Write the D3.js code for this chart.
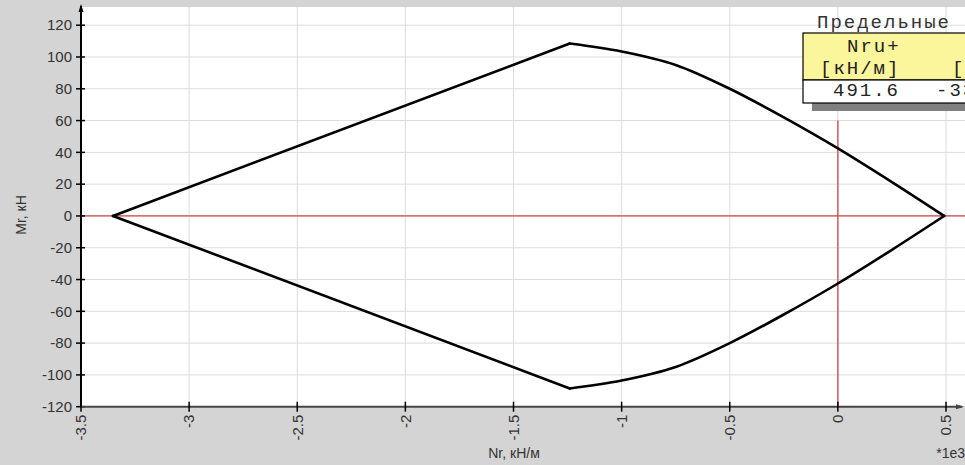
<!DOCTYPE html>
<html>
<head>
<meta charset="utf-8">
<script src="https://cdn.jsdelivr.net/npm/d3@7"></script>
<style>
  body { margin: 0; background: #d4d4d4; }
  svg text { font-family: "Liberation Sans", Arial, sans-serif; }
  svg text.mono { font-family: "Liberation Mono", "Courier New", monospace; font-size: 19px; letter-spacing: 2px; fill: #222; }
</style>
</head>
<body>
<svg id="chart" width="965" height="465"></svg>
<script>
// upper and lower branches of the limit curve, N in kN/m, M in kN
var nUpper = [-3352, -1240, -1000, -750, -500, -250, 0, 250, 491.6];
var mUpper = [0, 108.5, 103.5, 95, 80, 62, 42.5, 21.3, 0];
var nLower = [-3352, -1240, -1000, -750, -500, -250, 0, 250, 491.6];
var mLower = [0, -108.5, -103.5, -95, -80, -62, -42.5, -21.3, 0];

var xTicks = [-3500, -3000, -2500, -2000, -1500, -1000, -500, 0, 500];
var yTicks = [-120, -100, -80, -60, -40, -20, 0, 20, 40, 60, 80, 100, 120];

var tableTitle = 'Предельные значения';
var tableHead = ['Nru+', 'Nru-'];
var tableUnits = ['[кН/м]', '[кН/м]'];
var tableVals = ['491.6', '-3352.0'];

var W = 965, H = 465;
var svg = d3.select('#chart');

var x = d3.scaleLinear().domain([-3500, 500]).range([81, 946]);
var y = d3.scaleLinear().domain([-120, 120]).range([406.7, 25.2]);

// plot background
svg.append('rect')
    .attr('x', x(-3500)).attr('y', 7)
    .attr('width', W - x(-3500)).attr('height', y(-120) - 7)
    .style('fill', '#fff');

// gridlines
svg.append('g').selectAll('line').data(xTicks.slice(1)).enter().append('line')
    .attr('x1', d => x(d)).attr('x2', d => x(d))
    .attr('y1', 7).attr('y2', y(-120))
    .style('stroke', '#dcdcdc').style('stroke-width', 1);
svg.append('g').selectAll('line').data(yTicks).enter().append('line')
    .attr('x1', x(-3500)).attr('x2', W)
    .attr('y1', d => y(d)).attr('y2', d => y(d))
    .style('stroke', '#dcdcdc').style('stroke-width', 1);

// red zero lines
svg.append('line')
    .attr('x1', x(-3500)).attr('x2', W)
    .attr('y1', y(0)).attr('y2', y(0))
    .style('stroke', '#d04848').style('stroke-width', 1.3);
svg.append('line')
    .attr('x1', x(0)).attr('x2', x(0))
    .attr('y1', y(60)).attr('y2', y(-120))
    .style('stroke', '#d04848').style('stroke-width', 1.3);

// curve: straight flank up to the peak, smooth part after it
var straight = d3.line().x(d => x(d[0])).y(d => y(d[1]));
var smooth = d3.line().x(d => x(d[0])).y(d => y(d[1])).curve(d3.curveMonotoneX);
[[nUpper, mUpper], [nLower, mLower]].forEach(function (s) {
    var pts = d3.zip(s[0], s[1]);
    [[straight, pts.slice(0, 2)], [smooth, pts.slice(1)]].forEach(function (p) {
        svg.append('path')
            .datum(p[1])
            .attr('d', p[0])
            .style('fill', 'none')
            .style('stroke', '#000')
            .style('stroke-width', 2.6)
            .style('stroke-linejoin', 'round')
            .style('stroke-linecap', 'round');
    });
});

// y axis
svg.append('line')
    .attr('x1', x(-3500)).attr('x2', x(-3500))
    .attr('y1', 6).attr('y2', y(-120))
    .style('stroke', '#000').style('stroke-width', 2);
svg.append('path')
    .attr('d', 'M' + [x(-3500) - 2.5, 12] + 'L' + [x(-3500), 4] + 'L' + [x(-3500) + 2.5, 12] + 'Z')
    .style('fill', '#000');
var yt = svg.append('g').selectAll('g').data(yTicks).enter().append('g')
    .attr('transform', d => 'translate(' + [x(-3500), y(d)] + ')');
yt.append('line').attr('x1', -5).attr('x2', 4)
    .style('stroke', '#000').style('stroke-width', 1.5);
yt.append('text')
    .attr('x', -9).attr('dy', '0.35em')
    .style('text-anchor', 'end')
    .style('font-size', '15px')
    .style('fill', '#333')
    .text(d => d);

// x axis
svg.append('line')
    .attr('x1', x(-3500)).attr('x2', 962)
    .attr('y1', y(-120)).attr('y2', y(-120))
    .style('stroke', '#444').style('stroke-width', 2);
svg.append('path')
    .attr('d', 'M' + [956, y(-120) - 2.5] + 'L' + [964, y(-120)] + 'L' + [956, y(-120) + 2.5] + 'Z')
    .style('fill', '#444');
var xt = svg.append('g').selectAll('g').data(xTicks).enter().append('g')
    .attr('transform', d => 'translate(' + [x(d), y(-120)] + ')');
xt.append('line').attr('y1', -5).attr('y2', 5)
    .style('stroke', '#000').style('stroke-width', 1.5);
xt.append('text')
    .attr('transform', 'translate(0,8) rotate(-90)')
    .attr('dy', '0.35em')
    .style('text-anchor', 'end')
    .style('font-size', '15px')
    .style('fill', '#333')
    .text(d => d / 1000);

// axis titles
svg.append('text')
    .attr('transform', 'translate(' + [26, 215] + ') rotate(-90)')
    .style('text-anchor', 'middle')
    .style('font-size', '14px')
    .style('fill', '#333')
    .text('Mr, кН');
svg.append('text')
    .attr('x', 514).attr('y', 458)
    .style('text-anchor', 'middle')
    .style('font-size', '14px')
    .style('fill', '#333')
    .text('Nr, кН/м');
svg.append('text')
    .attr('x', 965).attr('y', 458)
    .style('text-anchor', 'end')
    .style('font-size', '14px')
    .style('fill', '#333')
    .text('*1e3');

// limit values table
var tbl = svg.append('g').attr('class', 'table');
tbl.append('rect').attr('x', 812).attr('y', 103).attr('width', 300).attr('height', 8)
    .style('fill', '#808080');
tbl.append('rect').attr('x', 803).attr('y', 33).attr('width', 300).attr('height', 47)
    .style('fill', '#fbf59c').style('stroke', '#000').style('stroke-width', 1.2);
tbl.append('rect').attr('x', 803).attr('y', 80).attr('width', 300).attr('height', 23)
    .style('fill', '#fff').style('stroke', '#000').style('stroke-width', 1.2);
tbl.append('text').attr('class', 'mono')
    .attr('x', 817).attr('y', 28)
    .style('fill', '#333')
    .text(tableTitle);
var colX = [820, 952];
tableHead.forEach(function (t, i) {
    tbl.append('text').attr('class', 'mono')
        .attr('x', colX[i] + 27).attr('y', 52)
        .text(t);
    tbl.append('text').attr('class', 'mono')
        .attr('x', colX[i]).attr('y', 74)
        .text(tableUnits[i]);
    tbl.append('text').attr('class', 'mono')
        .attr('x', colX[i] + 13 - (i ? 29 : 0)).attr('y', 96)
        .text(tableVals[i]);
});
</script>
</body>
</html>
